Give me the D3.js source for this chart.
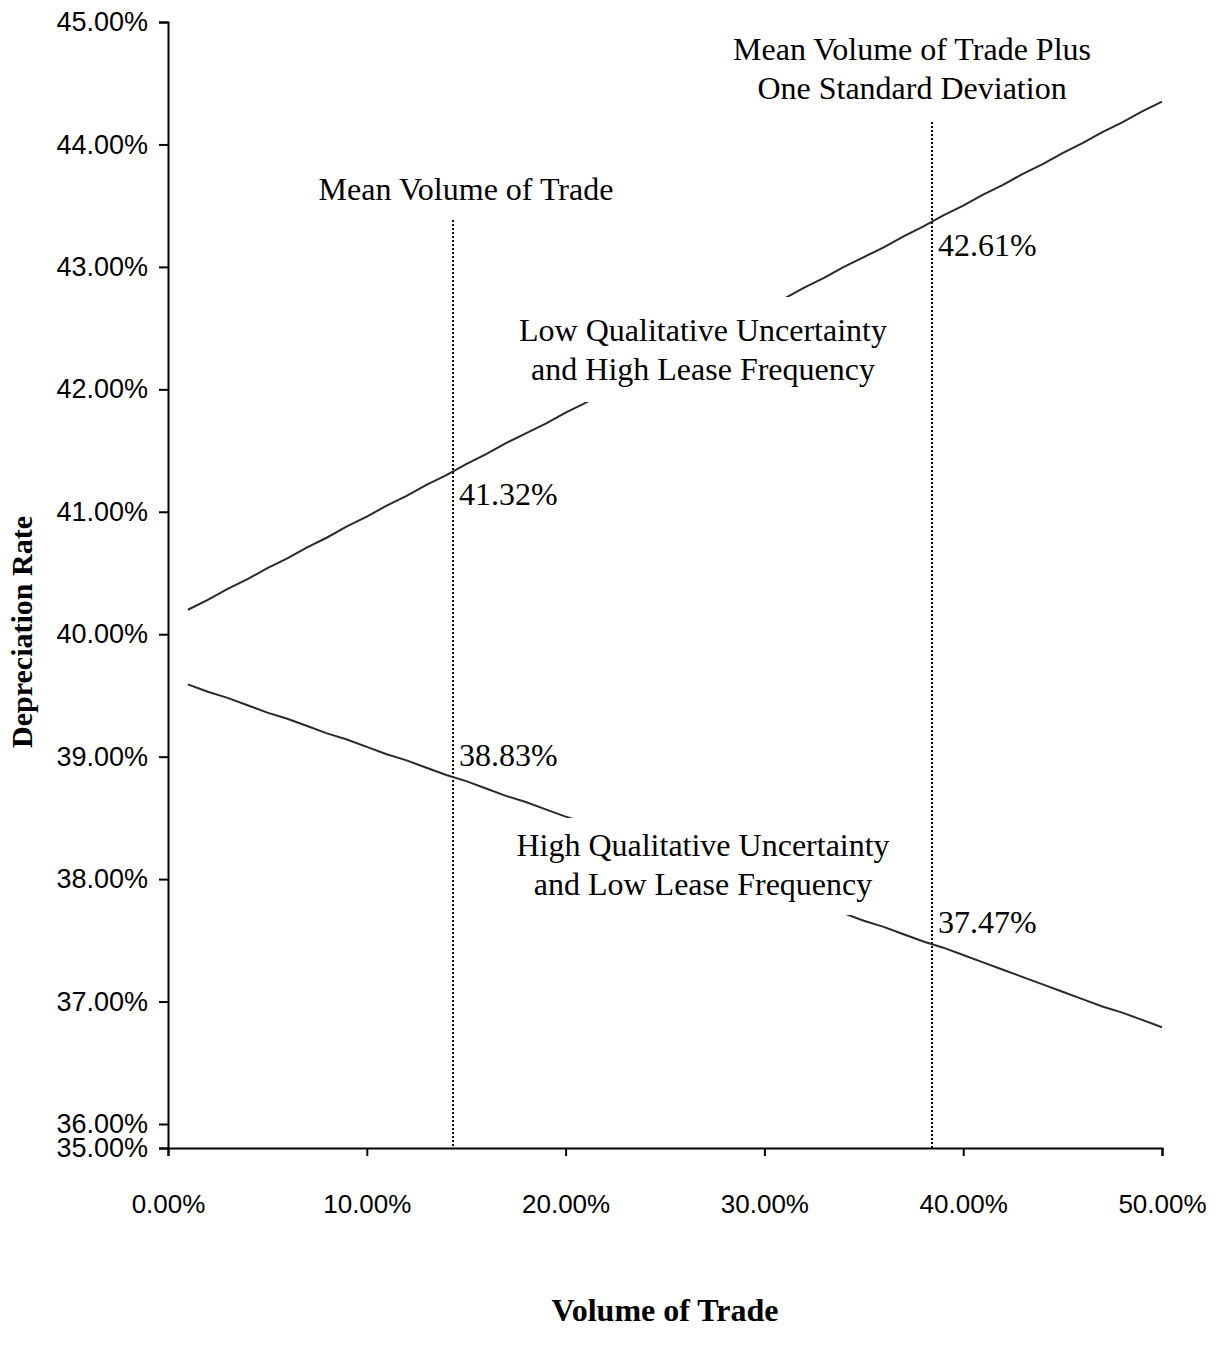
<!DOCTYPE html>
<html><head><meta charset="utf-8">
<script src="https://cdn.jsdelivr.net/npm/d3@7"></script>
<style>body{margin:0;background:#fff}</style>
</head><body>
<svg id="chart" width="1222" height="1357"></svg>
<script>
const volume = [1,2,3,4,5,6,7,8,9,10,11,12,13,14,15,16,17,18,19,20,21,22,23,24,25,26,27,28,29,30,31,32,33,34,35,36,37,38,39,40,41,42,43,44,45,46,47,48,49,50];
const lowUncertainty = [40.20,40.28,40.37,40.45,40.54,40.62,40.71,40.79,40.88,40.96,41.05,41.13,41.22,41.30,41.39,41.47,41.56,41.64,41.72,41.81,41.89,41.98,42.06,42.15,42.23,42.32,42.40,42.49,42.57,42.66,42.74,42.83,42.91,43.00,43.08,43.16,43.25,43.33,43.42,43.50,43.59,43.67,43.76,43.84,43.93,44.01,44.10,44.18,44.27,44.35];
const highUncertainty = [39.59,39.53,39.48,39.42,39.36,39.31,39.25,39.19,39.14,39.08,39.02,38.97,38.91,38.85,38.80,38.74,38.68,38.63,38.57,38.51,38.46,38.40,38.34,38.29,38.23,38.17,38.12,38.06,38.00,37.95,37.89,37.83,37.78,37.72,37.66,37.61,37.55,37.49,37.44,37.38,37.32,37.26,37.20,37.14,37.08,37.02,36.96,36.91,36.85,36.79];
const xTicks = [0,10,20,30,40,50];
const yTicks = [35,36,37,38,39,40,41,42,43,44,45];
const refLines = [14.34, 38.43];
const refTitles = [["Mean Volume of Trade"], ["Mean Volume of Trade Plus","One Standard Deviation"]];
const pointLabels = [
  {x:14.34, text:"41.32%", series:"low"},
  {x:38.43, text:"42.61%", series:"low"},
  {x:14.34, text:"38.83%", series:"high"},
  {x:38.43, text:"37.47%", series:"high"}
];
const seriesNames = [["Low Qualitative Uncertainty","and High Lease Frequency"],["High Qualitative Uncertainty","and Low Lease Frequency"]];

const svg = d3.select("#chart");
const x = d3.scaleLinear().domain([0,50]).range([168,1162]);
const y = d3.scaleLinear().domain([35,36,45]).range([1148,1124,22]);

const serif = "'Liberation Serif','Times New Roman',serif";
const sans = "'Liberation Sans',Arial,sans-serif";
const fs = "32px";

const xAxis = d3.axisBottom(x).tickValues(xTicks).tickSize(8).tickPadding(39).tickFormat(d=>d.toFixed(2)+"%");
const yAxis = d3.axisLeft(y).tickValues(yTicks).tickSize(9).tickPadding(11).tickFormat(d=>d.toFixed(2)+"%");

// reference dotted lines
svg.append("g").selectAll("line").data(refLines).join("line")
  .attr("x1",d=>x(d)).attr("x2",d=>x(d))
  .attr("y1",(d,i)=> i===0 ? 220 : 122).attr("y2",y(35))
  .attr("stroke","#000").attr("stroke-width",2).attr("stroke-dasharray","2,2");

const line = d3.line().x((d,i)=>x(volume[i])).y(d=>y(d));
svg.append("path").datum(lowUncertainty).attr("d",line).attr("fill","none").attr("stroke","#2a2a2a").attr("stroke-width",2);
svg.append("path").datum(highUncertainty).attr("d",line).attr("fill","none").attr("stroke","#2a2a2a").attr("stroke-width",2);

// series label boxes
const boxes = [{cx:703, top:297, bottom:402, lines:seriesNames[0], y0:341},
               {cx:703, top:818, bottom:915, lines:seriesNames[1], y0:856}];
boxes.forEach(b=>{
  svg.append("rect").attr("x",b.cx-185).attr("y",b.top).attr("width",370).attr("height",b.bottom-b.top).attr("fill","#fff");
  svg.append("text").attr("x",b.cx).attr("y",b.y0).attr("text-anchor","middle")
    .style("font-family",serif).style("font-size",fs).attr("fill","#000")
    .selectAll("tspan").data(b.lines).join("tspan").attr("x",b.cx).attr("dy",(d,i)=>i?39:0).text(d=>d);
});

// ref titles
svg.append("text").attr("x",466).attr("y",200).attr("text-anchor","middle")
  .style("font-family",serif).style("font-size",fs).text(refTitles[0][0]);
svg.append("text").attr("x",912).attr("y",60).attr("text-anchor","middle")
  .style("font-family",serif).style("font-size",fs)
  .selectAll("tspan").data(refTitles[1]).join("tspan").attr("x",912).attr("dy",(d,i)=>i?39:0).text(d=>d);

// point labels
svg.append("g").selectAll("text").data(pointLabels).join("text")
  .attr("x",d=>x(d.x)+6)
  .attr("y",d=>{
    const idx = volume.findIndex(v=>v>=d.x);
    const arr = d.series==="low"?lowUncertainty:highUncertainty;
    return y(arr[idx]) + (d.series==="low" ? 41 : -15);
  })
  .style("font-family",serif).style("font-size",fs).text(d=>d.text);

const gx = svg.append("g").attr("transform",`translate(0,${y(35)})`).call(xAxis);
const gy = svg.append("g").attr("transform",`translate(${x(0)},0)`).call(yAxis);
[gx,gy].forEach(g=>{
  g.select(".domain").attr("stroke","#000").attr("stroke-width",2);
  g.selectAll(".tick line").attr("stroke","#000").attr("stroke-width",2);
  g.selectAll(".tick text").style("font-family",sans).style("font-size","27px").attr("fill","#000");
});
gx.selectAll(".tick text").style("font-size","26px");

svg.append("text").attr("x",665).attr("y",1321).attr("text-anchor","middle")
  .style("font-family",serif).style("font-size",fs).style("font-weight","bold").text("Volume of Trade");
svg.append("text").attr("transform","translate(32,632) rotate(-90)").attr("text-anchor","middle")
  .style("font-family",serif).style("font-size","30px").style("font-weight","bold").text("Depreciation Rate");
</script>
</body></html>
